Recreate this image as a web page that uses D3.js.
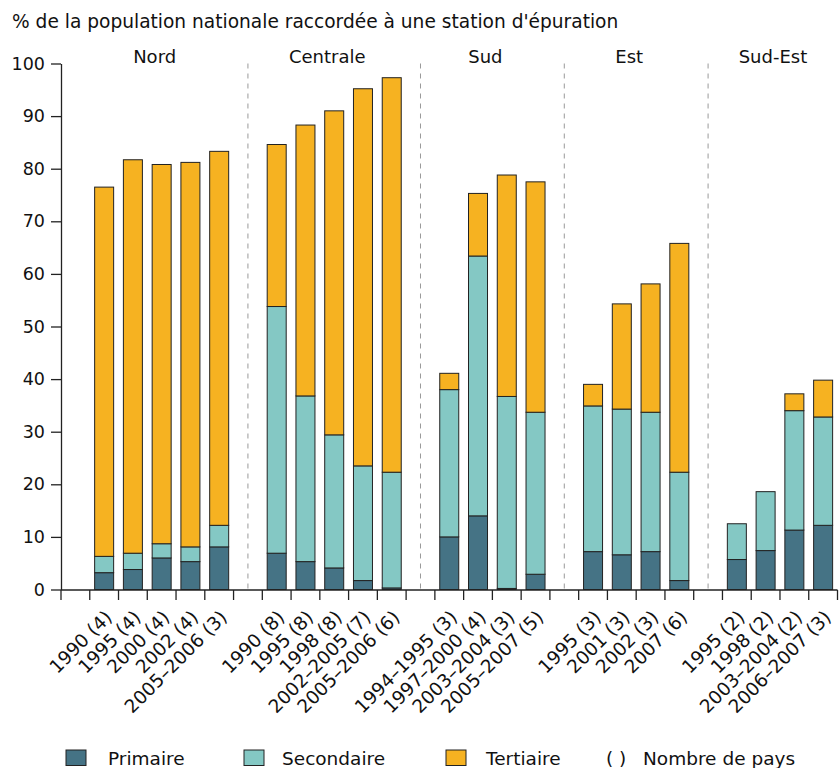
<!DOCTYPE html>
<html lang="fr">
<head>
<meta charset="utf-8">
<title>Stations d'épuration</title>
<script src="https://d3js.org/d3.v7.min.js"></script>
<style>
  body { margin: 0; background: #fff; }
  svg text { font-family: "DejaVu Sans", Verdana, sans-serif; fill: #111; }
  .bar { stroke: #222; stroke-width: 1px; }
  .axis path, .axis line { stroke: #222; stroke-width: 1.3px; }
  .sep { stroke: #999; stroke-dasharray: 5,5; stroke-width: 1px; }
</style>
</head>
<body>
<div id="chart"></div>
<script>
    // data
    var groups = ["Nord", "Centrale", "Sud", "Est", "Sud-Est"];
    var periods = [
        ["1990 (4)", "1995 (4)", "2000 (4)", "2002 (4)", "2005–2006 (3)"],
        ["1990 (8)", "1995 (8)", "1998 (8)", "2002–2005 (7)", "2005–2006 (6)"],
        ["1994–1995 (3)", "1997–2000 (4)", "2003–2004 (3)", "2005–2007 (5)"],
        ["1995 (3)", "2001 (3)", "2002 (3)", "2007 (6)"],
        ["1995 (2)", "1998 (2)", "2003–2004 (2)", "2006–2007 (3)"]
    ];
    var primaire = [
        [3.2, 3.8, 6.0, 5.3, 8.1],
        [6.9, 5.3, 4.1, 1.7, 0.3],
        [10.0, 14.0, 0.2, 2.9],
        [7.2, 6.6, 7.2, 1.7],
        [5.7, 7.4, 11.3, 12.2]
    ];
    var secondaire = [
        [3.1, 3.1, 2.7, 2.8, 4.1],
        [46.9, 31.5, 25.3, 21.8, 22.0],
        [28.0, 49.4, 36.5, 30.8],
        [27.7, 27.7, 26.5, 20.6],
        [6.8, 11.2, 22.7, 20.6]
    ];
    var tertiaire = [
        [70.2, 74.8, 72.1, 73.1, 71.1],
        [30.8, 51.5, 61.6, 71.7, 75.0],
        [3.1, 11.9, 42.1, 43.8],
        [4.1, 20.0, 24.4, 43.5],
        [0, 0, 3.2, 7.0]
    ];
    var yTicks = [0, 10, 20, 30, 40, 50, 60, 70, 80, 90, 100];
    var seriesNames = ["Primaire", "Secondaire", "Tertiaire"];
    var colors = ["#457385", "#84c8c4", "#f6b221"];

    var WIDTH = 839, HEIGHT = 768;
    var LEFT = 61, RIGHT = 837.5, TOP = 63.5, BOTTOM = 589.5;

    var svg = d3.select("#chart").append("svg")
        .attr("width", WIDTH)
        .attr("height", HEIGHT);

    // one slot per bar, with an empty slot before each group
    var slots = [];
    var rows = [];
    groups.forEach(function (g, gi) {
        slots.push("gap" + gi);
        periods[gi].forEach(function (p, i) {
            var key = g + "|" + p;
            slots.push(key);
            rows.push({
                key: key, group: gi, label: p,
                Primaire: primaire[gi][i],
                Secondaire: secondaire[gi][i],
                Tertiaire: tertiaire[gi][i]
            });
        });
    });

    var x = d3.scaleBand().domain(slots).range([LEFT, RIGHT]).padding(0);
    var y = d3.scaleLinear().domain([0, 100]).range([BOTTOM, TOP]);
    var bw = x.bandwidth();
    var barW = 19;

    // title
    svg.append("text")
        .attr("x", 12).attr("y", 28)
        .style("font-size", "18.6px")
        .text("% de la population nationale raccordée à une station d'épuration");

    // dashed separators between groups
    groups.forEach(function (g, gi) {
        if (gi === 0) return;
        var cx = x("gap" + gi) + bw / 2;
        svg.append("line").attr("class", "sep")
            .attr("x1", cx).attr("x2", cx)
            .attr("y1", TOP).attr("y2", BOTTOM);
    });

    // group labels
    groups.forEach(function (g, gi) {
        var first = x(g + "|" + periods[gi][0]);
        var last = x(g + "|" + periods[gi][periods[gi].length - 1]) + bw;
        svg.append("text")
            .attr("x", (first + last) / 2 - 7)
            .attr("y", 63)
            .attr("text-anchor", "middle")
            .style("font-size", "18px")
            .text(g);
    });

    // stacked bars
    var stack = d3.stack().keys(seriesNames);
    var layers = stack(rows);

    svg.append("g").selectAll("g")
        .data(layers)
        .enter().append("g")
        .attr("fill", function (d, i) { return colors[i]; })
        .selectAll("rect")
        .data(function (d) { return d.filter(function (s) { return s[1] - s[0] > 0; }); })
        .enter().append("rect")
        .attr("class", "bar")
        .attr("x", function (d) { return x(d.data.key) + (bw - barW) / 2; })
        .attr("y", function (d) { return y(d[1]); })
        .attr("width", barW)
        .attr("height", function (d) { return y(d[0]) - y(d[1]); });

    // y axis
    var yAxis = svg.append("g").attr("class", "axis")
        .attr("transform", "translate(" + LEFT + ",0)")
        .call(d3.axisLeft(y).tickValues(yTicks).tickSize(10).tickPadding(6).tickSizeOuter(0));
    yAxis.selectAll("text").style("font-size", "17.5px");

    // x axis: line with ticks at slot boundaries
    var xg = svg.append("g").attr("class", "axis");
    xg.append("line")
        .attr("x1", LEFT).attr("x2", RIGHT)
        .attr("y1", BOTTOM + 0.5).attr("y2", BOTTOM + 0.5);
    var bounds = slots.map(function (s) { return x(s); }).concat([RIGHT]);
    xg.selectAll(".tk").data(bounds).enter().append("line")
        .attr("class", "tk")
        .attr("x1", function (d) { return d; }).attr("x2", function (d) { return d; })
        .attr("y1", BOTTOM + 0.5).attr("y2", BOTTOM + 10.5);

    // rotated period labels
    svg.append("g").selectAll("text")
        .data(rows)
        .enter().append("text")
        .attr("text-anchor", "end")
        .style("font-size", "18.5px")
        .attr("transform", function (d) {
            var cx = x(d.key) + bw / 2 + 9;
            return "translate(" + cx + "," + (BOTTOM + 29) + ") rotate(-45)";
        })
        .text(function (d) { return d.label; });

    // legend
    var legendX = [66, 244, 446];
    var legendTextX = [108, 282, 486];
    var lg = svg.append("g");
    seriesNames.forEach(function (n, i) {
        lg.append("rect")
            .attr("x", legendX[i]).attr("y", 750)
            .attr("width", 20).attr("height", 15.5)
            .attr("fill", colors[i])
            .attr("stroke", "#222").attr("stroke-width", 1);
        lg.append("text")
            .attr("x", legendTextX[i]).attr("y", 764.5)
            .style("font-size", "18.5px")
            .text(n);
    });
    lg.append("text").attr("x", 606).attr("y", 764.5)
        .style("font-size", "18.5px").text("( )");
    lg.append("text").attr("x", 643).attr("y", 764.5)
        .style("font-size", "18.5px").text("Nombre de pays");
</script>
</body>
</html>
